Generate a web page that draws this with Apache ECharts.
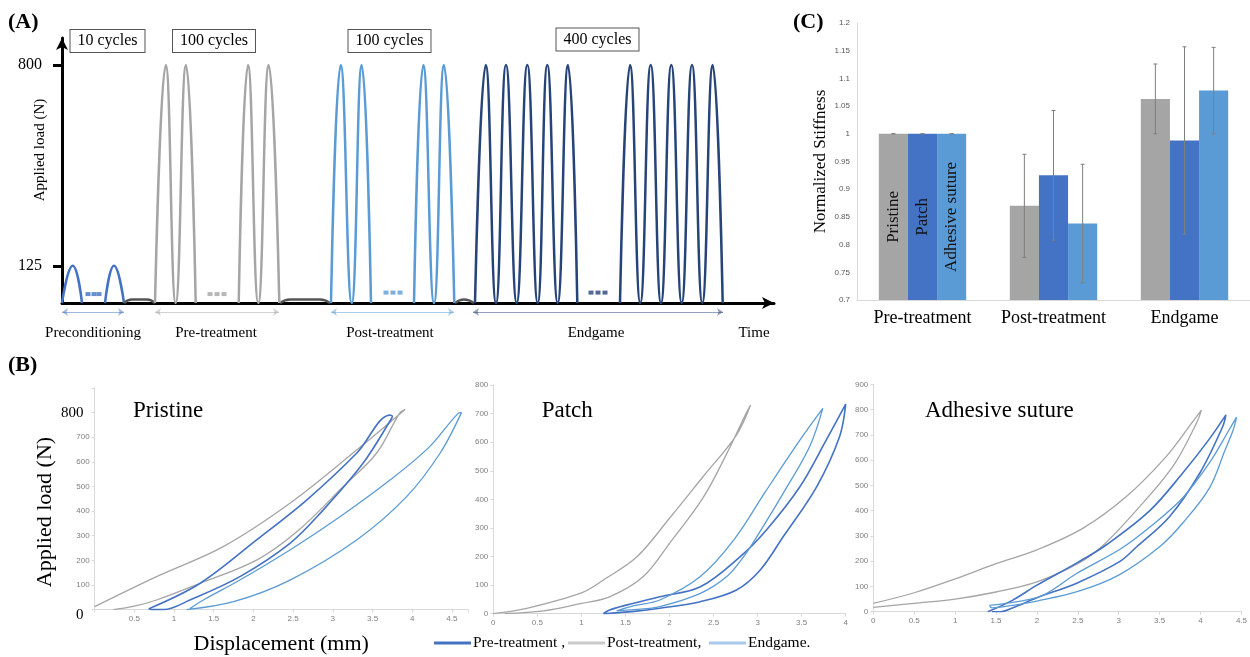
<!DOCTYPE html>
<html>
<head>
<meta charset="utf-8">
<style>
html,body{margin:0;padding:0;background:#fff}
#chart{width:1250px;height:657px}
</style>
<script src="https://cdn.jsdelivr.net/npm/echarts@6/dist/echarts.min.js"></script>
</head>
<body>
<div id="chart"></div>
<script>
// ---- panel A : loading protocol (time in arbitrary units, load in N)
var precondA1 = [[0,0],[10.7,125],[20,0]];
var precondA2 = [[43,0],[52,125],[62,0]];
var holdA1 = [[62,0],[70,12],[85,12],[93,0]];
var preA1 = [[93,0],[103.7,800],[113.7,0],[124,800],[133.7,0]];
var preA2 = [[176.7,0],[186,800],[196.3,0],[206.7,800],[217.3,0]];
var holdA2 = [[218,0],[228,12],[258,12],[268,0]];
var postA1 = [[269,0],[278.7,800],[289.7,0],[299.7,800],[309,0]];
var postA2 = [[352,0],[361.3,800],[372,0],[382,800],[392.3,0]];
var holdA3 = [[393,0],[402,12],[412,0]];
var endA1 = [[413,0],[423.7,800],[434,0],[444,800],[454.7,0],[465.3,800],[475.7,0],[485.3,800],[495.7,0],[506,800],[515.3,0]];
var endA2 = [[558,0],[568,800],[578.3,0],[588.7,800],[599,0],[609.3,800],[619.7,0],[630,800],[640.3,0],[650.7,800],[660.7,0]];
var precondDots = [[26,30],[32,30],[37,30]];
var preDots = [[148,30],[155,30],[162,30]];
var postDots = [[324,35],[331,35],[338,35]];
var endDots = [[529,35],[536,35],[543,35]];
var phaseSpans = [[0,62],[93,217],[269,392],[411,661]];

// ---- panel C : normalized stiffness
var stiffCats = ['Pre-treatment','Post-treatment','Endgame'];
var pristineMean = [1, 0.87, 1.063];
var pristineErr = [0, 0.093, 0.063];
var patchMean = [1, 0.925, 0.988];
var patchErr = [0, 0.117, 0.169];
var adhesiveMean = [1, 0.838, 1.078];
var adhesiveErr = [0, 0.107, 0.078];

// ---- panel B : hysteresis loops [displacement mm, load N]
var pristinePre = [[0.68,3],[1.33,107],[2.04,283],[2.67,445],[3.30,635],[3.72,790],[3.75,785],[3.74,776],[3.38,594],[2.88,405],[2.46,269],[1.83,134],[1.20,39],[0.87,0],[0.72,0],[0.68,3]];
var pristinePost = [[0,12],[0.78,134],[1.62,256],[2.46,432],[3.30,648],[3.91,813],[3.84,797],[3.55,635],[3.13,499],[2.55,317],[2.04,201],[1.33,107],[0.78,39],[0.5,14],[0.24,0]];
var pristineEnd = [[1.16,0],[1.75,32],[2.46,120],[3.30,283],[3.93,459],[4.35,635],[4.62,800],[4.58,797],[4.22,662],[3.72,526],[3.09,377],[2.46,242],[1.83,120],[1.37,39],[1.20,4]];

var patchPre = [[1.25,0],[1.6,8],[1.89,19],[2.35,42],[2.76,83],[3.03,153],[3.29,269],[3.67,444],[3.93,619],[4.0,733],[3.78,608],[3.48,444],[3.10,293],[2.80,199],[2.35,94],[1.89,59],[1.51,30],[1.32,13],[1.25,0]];
var patchPost = [[0,0],[0.38,19],[1.0,73],[1.25,118],[1.63,199],[2.0,334],[2.38,479],[2.76,625],[2.92,730],[2.87,701],[2.65,560],[2.38,405],[2.0,246],[1.70,129],[1.32,59],[1.0,36],[0.57,10],[0.13,0]];
var patchEnd = [[1.40,10],[1.6,14],[1.89,25],[2.35,71],[2.65,130],[2.84,199],[2.99,269],[3.29,421],[3.59,584],[3.74,718],[3.48,607],[3.10,432],[2.73,258],[2.35,130],[1.89,48],[1.6,28],[1.40,10]];

var adhesivePre = [[1.40,0],[1.7,45],[2.0,105],[2.5,195],[2.85,265],[3.38,400],[3.78,548],[4.1,680],[4.31,779],[4.27,732],[3.99,548],[3.62,376],[3.22,257],[3.01,198],[2.5,115],[2.0,55],[1.7,15],[1.55,0],[1.45,0]];
var adhesivePost = [[0,33],[0.5,75],[1.0,130],[1.5,190],[2.0,245],[2.56,330],[3.09,455],[3.58,614],[3.9,750],[4.01,798],[3.95,746],[3.66,574],[3.22,403],[2.8,260],[2.5,190],[2.0,118],[1.5,78],[1.0,50],[0.5,33],[0,17]];
var adhesiveEnd = [[1.42,25],[1.8,42],[2.08,66],[2.48,150],[3.03,250],[3.4,340],[3.78,450],[4.11,590],[4.35,720],[4.44,770],[4.40,720],[4.3,640],[4.11,490],[3.78,350],[3.5,257],[3.0,145],[2.5,80],[2.0,42],[1.7,25],[1.45,15],[1.42,25]];

var SERIF = '"Liberation Serif","Times New Roman",serif';
var SANS = '"Liberation Sans",Arial,sans-serif';
var C_PRE = '#4472c4', C_POST = '#a5a5a5', C_END = '#5b9bd5', C_NAVY = '#264478';
var BAR_GAP = 0.333;

var chart = echarts.init(document.getElementById('chart'));

function loadLine(data, color, w) {
  return {type:'line', xAxisIndex:0, yAxisIndex:0, data:data, smooth:0.5, symbol:'none',
    lineStyle:{color:color, width:w || 2.5}, silent:true};
}
function dots(data, color) {
  return {type:'scatter', xAxisIndex:0, yAxisIndex:0, data:data, symbol:'rect', symbolSize:[5,4],
    itemStyle:{color:color}, silent:true};
}
function loop(name, gi, data, color, w) {
  return {type:'line', name:name, xAxisIndex:gi, yAxisIndex:gi, data:data, smooth:0.35, symbol:'none',
    lineStyle:{color:color, width:w || 1.3}, itemStyle:{color:color}, silent:true};
}
function bar(name, mean, color) {
  var d = mean.map(function(v, i){ return i === 0 ? {value:v, label:{show:true}} : v; });
  return {type:'bar', name:name, xAxisIndex:2, yAxisIndex:2, data:d, barGap:'0%', barCategoryGap:(BAR_GAP*100)+'%',
    itemStyle:{color:color},
    label:{show:false, position:'inside', rotate:90, formatter:'{a}', fontFamily:SERIF, fontSize:17, color:'#111'}};
}
function errData(mean, err, k) {
  return mean.map(function(v, i){ return [i, v - err[i], v + err[i], k]; });
}
function renderErr(params, api) {
  var cat = api.value(0), k = api.value(3);
  var band = api.size([1, 0])[0];
  var bw = band * (1 - BAR_GAP) / 3;
  var top = api.coord([cat, api.value(2)]);
  var bot = api.coord([cat, api.value(1)]);
  var x = top[0] + (k - 1) * bw;
  var st = {stroke:'#7f7f7f', lineWidth:1};
  return {type:'group', children:[
    {type:'line', shape:{x1:x, y1:top[1], x2:x, y2:bot[1]}, style:st},
    {type:'line', shape:{x1:x-2, y1:top[1], x2:x+2, y2:top[1]}, style:st},
    {type:'line', shape:{x1:x-2, y1:bot[1], x2:x+2, y2:bot[1]}, style:st}
  ]};
}
function smallAxis(gi, max, interval, hideZero) {
  return {gridIndex:gi, type:'value', min:0, max:max, interval:interval,
    axisLine:{show:true, lineStyle:{color:'#d9d9d9'}},
    axisTick:{show:true, length:3, lineStyle:{color:'#d9d9d9'}},
    splitLine:{show:false},
    axisLabel:{fontFamily:SANS, fontSize:8, color:'#7f7f7f', margin:5,
      formatter:function(v){
        if (hideZero && v === 0) return '';
        var r = Math.round(v / interval * 1000) / 1000;
        return r === Math.round(r) ? String(v) : '';
      }}};
}
function txt(text, x, y, size, opts) {
  opts = opts || {};
  var st = {text:text, x:0, y:0, fill:'#000', font:(opts.bold ? 'bold ' : '') + size + 'px ' + SERIF,
    align:opts.align || 'center', textAlign:opts.align || 'center', verticalAlign:'middle', textVerticalAlign:'middle'};
  if (opts.box) { st.borderColor = '#555'; st.borderWidth = 1; st.padding = [3,7,3,7]; st.backgroundColor = '#fff'; }
  return {type:'text', x:x, y:y, rotation:opts.rot || 0, style:st, silent:true, z:100};
}

var pristineY = smallAxis(3, 900, 100, false);
pristineY.axisLabel.formatter = function(v){
  if (v === 800) return '{big|800}';
  if (v === 0) return '{big0|0}';
  if (v === 900) return '';
  return String(v);
};
pristineY.axisLabel.rich = {
  big:{fontFamily:SERIF, fontSize:15, color:'#000', padding:[0,6,0,0]},
  big0:{fontFamily:SERIF, fontSize:15, color:'#000', padding:[10,6,0,0]}
};
var pristineX = smallAxis(3, 4.7, 0.5, true);
pristineX.name = 'Displacement (mm)';
pristineX.nameLocation = 'middle';
pristineX.nameGap = 24;
pristineX.nameTextStyle = {fontFamily:SERIF, fontSize:22, color:'#000'};

var legendNames = {'Pre-treatment':'Pre-treatment ,', 'Post-treatment':'Post-treatment,', 'Endgame':'Endgame.'};
function legendAt(left, name, color) {
  return {left:left, top:630, icon:'rect', itemWidth:37, itemHeight:3, itemGap:0, selectedMode:false,
    data:[{name:name, itemStyle:{color:color}}],
    formatter:function(n){ return legendNames[n]; },
    textStyle:{fontFamily:SERIF, fontSize:15.5, color:'#000', padding:[0,0,0,-3]}};
}

var option = {
  animation:false,
  backgroundColor:'#fff',
  grid:[
    {left:62, top:38, width:712, height:265},
    {left:62, top:306, width:712, height:12},
    {left:857, top:23, width:396, height:277},
    {left:94.6, top:388, width:373.2, height:221.6},
    {left:493.3, top:385, width:352.4, height:228.7},
    {left:873.3, top:384.3, width:368.4, height:227.4}
  ],
  xAxis:[
    {gridIndex:0, type:'value', min:0, max:712,
      axisLine:{lineStyle:{color:'#000', width:3}, symbol:['none','arrow'], symbolSize:[9,12]},
      axisTick:{show:false}, axisLabel:{show:false}, splitLine:{show:false}},
    {gridIndex:1, type:'value', min:0, max:712, show:false},
    {gridIndex:2, type:'category', data:stiffCats,
      axisLine:{lineStyle:{color:'#d9d9d9'}}, axisTick:{show:false},
      axisLabel:{interval:0, fontFamily:SERIF, fontSize:18, color:'#000', margin:9}},
    pristineX,
    smallAxis(4, 4, 0.5, false),
    smallAxis(5, 4.5, 0.5, false)
  ],
  yAxis:[
    {gridIndex:0, type:'value', min:0, max:891,
      axisLine:{show:true, lineStyle:{color:'#000', width:3}, symbol:['none','arrow'], symbolSize:[9,12]},
      axisTick:{show:true, customValues:[125,800], length:9, lineStyle:{color:'#000', width:3}},
      axisLabel:{customValues:[125,800], fontFamily:SERIF, fontSize:16, color:'#000', margin:20},
      splitLine:{show:false}},
    {gridIndex:1, type:'value', min:0, max:1, show:false},
    {gridIndex:2, type:'value', min:0.7, max:1.2, interval:0.05,
      axisLine:{show:true, lineStyle:{color:'#d9d9d9'}}, axisTick:{show:false}, splitLine:{show:false},
      axisLabel:{fontFamily:SANS, fontSize:8, color:'#595959', margin:7},
      name:'Normalized Stiffness', nameLocation:'middle', nameGap:28,
      nameTextStyle:{fontFamily:SERIF, fontSize:17, color:'#000'}},
    pristineY,
    smallAxis(4, 800, 100, false),
    smallAxis(5, 900, 100, false)
  ],
  legend:[
    legendAt(429, 'Pre-treatment', C_PRE),
    legendAt(563, 'Post-treatment', '#c9c9c9'),
    legendAt(704, 'Endgame', '#a9c9ec')
  ],
  graphic:[
    txt('(A)', 8, 22, 22, {bold:true, align:'left'}),
    txt('(B)', 8, 365, 22, {bold:true, align:'left'}),
    txt('(C)', 793, 22, 22, {bold:true, align:'left'}),
    txt('Applied load (N)', 40, 150, 15, {rot:Math.PI/2}),
    txt('10 cycles', 107.5, 41, 16, {box:true}),
    txt('100 cycles', 214, 41, 16, {box:true}),
    txt('100 cycles', 389.5, 41, 16, {box:true}),
    txt('400 cycles', 597.5, 39.5, 16, {box:true}),
    txt('Preconditioning', 93, 333, 15),
    txt('Pre-treatment', 216, 333, 15),
    txt('Post-treatment', 390, 333, 15),
    txt('Endgame', 596, 333, 15),
    txt('Time', 754, 333, 15),
    txt('Applied load (N)', 45, 512, 22, {rot:Math.PI/2}),
    txt('Pristine', 133, 411, 23, {align:'left'}),
    txt('Patch', 541.7, 411, 23, {align:'left'}),
    txt('Adhesive suture', 925, 411, 23, {align:'left'})
  ],
  series:[
    loadLine(precondA1, C_PRE), loadLine(precondA2, C_PRE),
    loadLine(holdA1, '#555', 2.5), loadLine(holdA2, '#555', 2.5), loadLine(holdA3, '#555', 2.5),
    loadLine(preA1, C_POST), loadLine(preA2, C_POST),
    loadLine(postA1, C_END), loadLine(postA2, C_END),
    loadLine(endA1, C_NAVY), loadLine(endA2, C_NAVY),
    dots(precondDots, C_PRE), dots(preDots, C_POST), dots(postDots, C_END), dots(endDots, C_NAVY),
    {type:'lines', coordinateSystem:'cartesian2d', xAxisIndex:1, yAxisIndex:1, silent:true,
      symbol:['arrow','arrow'], symbolSize:6, lineStyle:{width:1.2},
      data:phaseSpans.map(function(s, i){
        var c = [C_PRE, C_POST, C_END, C_NAVY][i];
        return {coords:[[s[0],0.5],[s[1],0.5]], lineStyle:{color:c, width:1.2}};
      })},
    bar('Pristine', pristineMean, C_POST),
    bar('Patch', patchMean, C_PRE),
    bar('Adhesive suture', adhesiveMean, C_END),
    {type:'custom', xAxisIndex:2, yAxisIndex:2, renderItem:renderErr, encode:{x:0, y:[1,2]}, z:10, silent:true,
      data:errData(pristineMean, pristineErr, 0).concat(errData(patchMean, patchErr, 1), errData(adhesiveMean, adhesiveErr, 2))},
    loop('Post-treatment', 3, pristinePost, C_POST),
    loop('Pre-treatment', 3, pristinePre, C_PRE, 1.6),
    loop('Endgame', 3, pristineEnd, C_END),
    loop('Post-treatment', 4, patchPost, C_POST),
    loop('Pre-treatment', 4, patchPre, C_PRE, 1.6),
    loop('Endgame', 4, patchEnd, C_END),
    loop('Post-treatment', 5, adhesivePost, C_POST),
    loop('Pre-treatment', 5, adhesivePre, C_PRE, 1.6),
    loop('Endgame', 5, adhesiveEnd, C_END)
  ]
};
chart.setOption(option);
</script>
</body>
</html>
